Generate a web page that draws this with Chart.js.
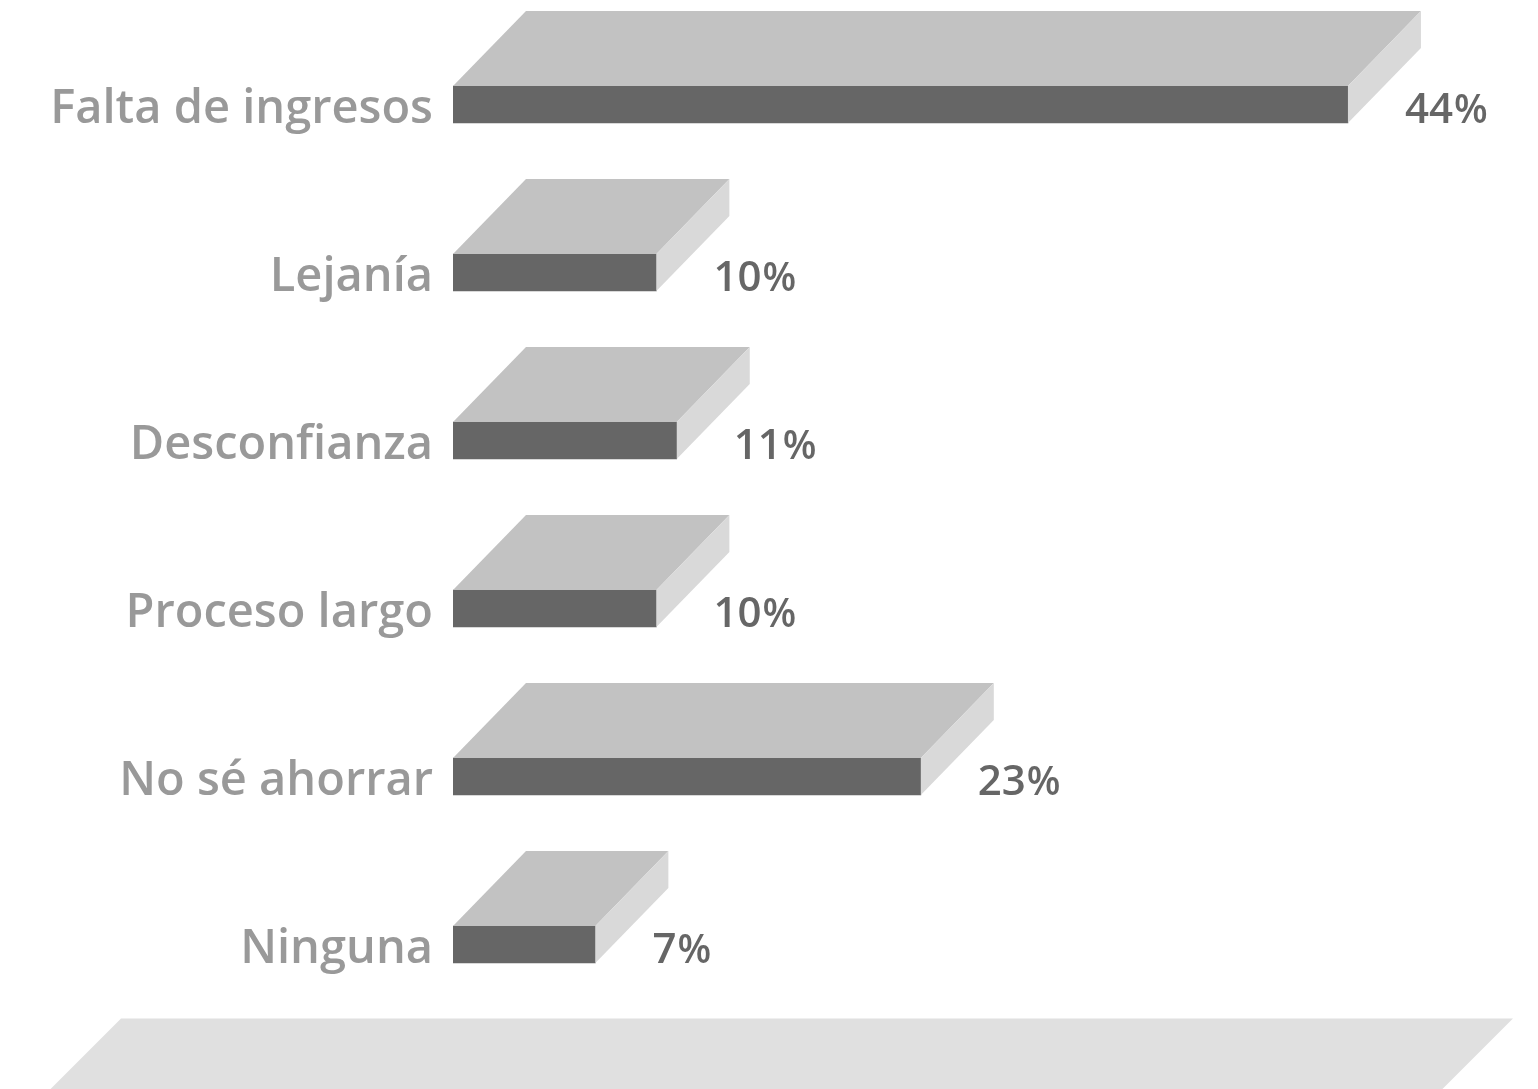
<!DOCTYPE html>
<html>
<head>
<meta charset="utf-8">
<script src="https://cdn.jsdelivr.net/npm/chart.js@4/dist/chart.umd.min.js"></script>
<style>
  html, body { margin: 0; padding: 0; background: #fff; }
  #wrap { width: 1538px; height: 1089px; position: relative; }
</style>
</head>
<body>
<div id="wrap"><canvas id="chart"></canvas></div>
<script>
const categories = ["Falta de ingresos", "Lejanía", "Desconfianza", "Proceso largo", "No sé ahorrar", "Ninguna"]
const values = [44, 10, 11, 10, 23, 7]

const FONT = "'Open Sans', 'Noto Sans', sans-serif"
const DEPTH_X = 73
const DEPTH_Y = 75

// floor + 3d faces + value labels
const box3d = {
  id: "box3d",
  beforeDatasetsDraw(chart) {
    const ctx = chart.ctx
    const area = chart.chartArea
    const top = area.bottom - 10
    ctx.save()
    ctx.fillStyle = "#e0e0e0"
    ctx.beginPath()
    ctx.moveTo(121, top)
    ctx.lineTo(chart.width - 25, top)
    ctx.lineTo(chart.width - 25 - 71, top + 71)
    ctx.lineTo(121 - 71, top + 71)
    ctx.closePath()
    ctx.fill()
    ctx.restore()
  },
  afterDatasetsDraw(chart) {
    const ctx = chart.ctx
    const meta = chart.getDatasetMeta(0)
    ctx.save()
    meta.data.forEach((bar, i) => {
      const x0 = bar.base
      const x1 = bar.x
      const yt = bar.y - bar.height / 2
      const yb = bar.y + bar.height / 2
      // top face
      ctx.fillStyle = "#c2c2c2"
      ctx.beginPath()
      ctx.moveTo(x0, yt)
      ctx.lineTo(x0 + DEPTH_X, yt - DEPTH_Y)
      ctx.lineTo(x1 + DEPTH_X, yt - DEPTH_Y)
      ctx.lineTo(x1, yt)
      ctx.closePath()
      ctx.fill()
      // side face
      ctx.fillStyle = "#d9d9d9"
      ctx.beginPath()
      ctx.moveTo(x1, yt)
      ctx.lineTo(x1 + DEPTH_X, yt - DEPTH_Y)
      ctx.lineTo(x1 + DEPTH_X, yb - DEPTH_Y)
      ctx.lineTo(x1, yb)
      ctx.closePath()
      ctx.fill()
      // value label
      ctx.fillStyle = "#666666"
      ctx.textBaseline = "alphabetic"
      ctx.textAlign = "left"
      ctx.font = "600 42px " + FONT
      const num = String(values[i])
      const lx = x1 + 57
      ctx.fillText(num, lx, yb)
      const w = ctx.measureText(num).width
      ctx.font = "600 39px " + FONT
      ctx.fillText("%", lx + w + 1, yb)
    })
    ctx.restore()
  }
}

const el = document.getElementById("chart").getContext("2d")
new Chart(el, {
  type: "bar",
  data: {
    labels: categories,
    datasets: [
      {
        data: values,
        backgroundColor: "#666666",
        barThickness: 37,
        borderWidth: 0,
      },
    ],
  },
  options: {
    indexAxis: "y",
    responsive: true,
    maintainAspectRatio: false,
    animation: false,
    layout: {
      padding: { top: 20.5, bottom: 60.5, left: 0, right: 68 },
    },
    plugins: {
      legend: { display: false },
      tooltip: { enabled: false },
    },
    scales: {
      x: {
        min: 0,
        max: 50,
        display: false,
      },
      y: {
        grid: { display: false, drawTicks: false },
        border: { display: false },
        ticks: {
          padding: 20,
          labelOffset: 5,
          color: "#999999",
          font: { family: FONT, size: 47, weight: "600" },
        },
        afterFit(scale) {
          scale.width = 453
          scale.paddingTop = 0
          scale.paddingBottom = 0
        },
      },
    },
  },
  plugins: [box3d],
})
</script>
</body>
</html>
